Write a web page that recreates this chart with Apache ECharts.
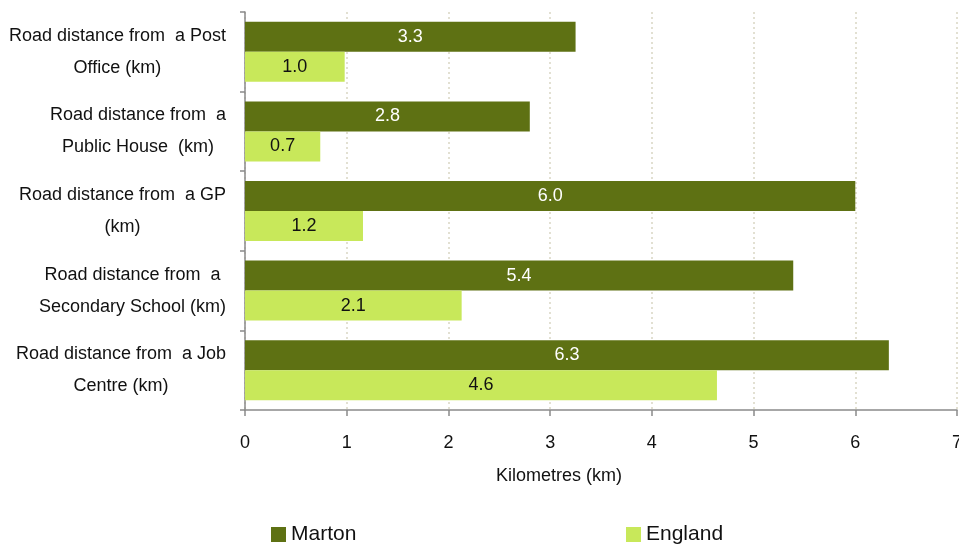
<!DOCTYPE html>
<html>
<head>
<meta charset="utf-8">
<script src="https://cdn.jsdelivr.net/npm/echarts@6/dist/echarts.min.js"></script>
<style>html,body{margin:0;padding:0;background:#fff;overflow:hidden;}#c{width:959px;height:548px;}</style>
</head>
<body>
<div id="c"></div>
<script>
const categories = [
  'Road distance from  a Post\nOffice (km)',
  'Road distance from  a\nPublic House  (km)',
  'Road distance from  a GP\n(km)',
  'Road distance from  a\nSecondary School (km)',
  'Road distance from  a Job\nCentre (km)'
];
const marton = [3.25, 2.8, 6.0, 5.39, 6.33];
const england = [0.98, 0.74, 1.16, 2.13, 4.64];
const xTicks = [0, 1, 2, 3, 4, 5, 6, 7];

const FONT = 'Liberation Sans, Arial, sans-serif';
const chart = echarts.init(document.getElementById('c'), null, {renderer: 'canvas', width: 959, height: 548});
chart.setOption({
  animation: false,
  textStyle: {fontFamily: FONT},
  grid: {left: 245, right: 2, top: 12, bottom: 138, containLabel: false, outerBoundsMode: 'none'},
  legend: [
    {data: ['Marton'], left: 266, top: 519, itemWidth: 15, itemHeight: 15, icon: 'rect',
     textStyle: {fontSize: 21, color: '#111', fontFamily: FONT}},
    {data: ['England'], left: 621, top: 519, itemWidth: 15, itemHeight: 15, icon: 'rect',
     textStyle: {fontSize: 21, color: '#111', fontFamily: FONT}}
  ],
  xAxis: {
    type: 'value', min: xTicks[0], max: xTicks[xTicks.length - 1], interval: 1,
    axisLine: {show: true, lineStyle: {color: '#8a8a8a', width: 1.5}},
    axisTick: {show: true, length: 6, lineStyle: {color: '#8a8a8a', width: 1.5}},
    axisLabel: {margin: 24, fontSize: 18, color: '#111', fontFamily: FONT},
    splitLine: {show: true, lineStyle: {color: '#d9d6c3', type: [2, 3], width: 1.5}}
  },
  yAxis: {
    type: 'category', data: categories, inverse: true,
    axisLine: {show: true, lineStyle: {color: '#8a8a8a', width: 1.5}},
    axisTick: {show: true, length: 5, alignWithLabel: false, lineStyle: {color: '#8a8a8a', width: 1.5}},
    axisLabel: {
      margin: 19, fontSize: 18, color: '#111', fontFamily: FONT, lineHeight: 32,
      formatter: function (v) { return v.split('\n').map(s => '{c|' + s + '}').join('\n'); },
      rich: {c: {align: 'center', fontSize: 18, lineHeight: 32, color: '#111', fontFamily: FONT}}
    }
  },
  graphic: [{
    type: 'text', x: 559, y: 476,
    style: {text: 'Kilometres (km)', fontSize: 18, fill: '#111', fontFamily: FONT, align: 'center', verticalAlign: 'middle'}
  }],
  series: [
    {name: 'Marton', type: 'bar', data: marton, barWidth: 30, barGap: '0%',
     itemStyle: {color: '#5e7113'},
     label: {show: true, position: 'inside', color: '#fff', fontSize: 18, fontFamily: FONT,
             formatter: p => p.value.toFixed(1)}},
    {name: 'England', type: 'bar', data: england, barWidth: 30, barGap: '0%',
     itemStyle: {color: '#c8e85a'},
     label: {show: true, position: 'inside', color: '#111', fontSize: 18, fontFamily: FONT,
             formatter: p => p.value.toFixed(1)}}
  ]
});
</script>
</body>
</html>
